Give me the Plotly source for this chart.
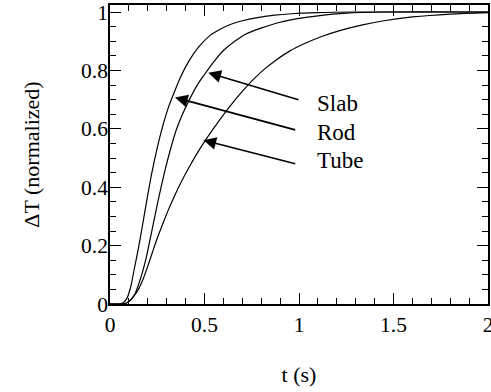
import plotly.graph_objects as go

# Rod (fastest, leftmost curve)
rod_t = [0, 0.05, 0.07, 0.09, 0.11, 0.13, 0.15, 0.17, 0.194, 0.22, 0.25, 0.28, 0.31, 0.34, 0.37, 0.40, 0.44, 0.48, 0.53, 0.58, 0.64, 0.70, 0.78, 0.87, 0.96, 1.1, 1.3, 2.0]
rod_y = [0, 0, 0.004, 0.02, 0.06, 0.125, 0.19, 0.262, 0.352, 0.445, 0.535, 0.612, 0.675, 0.725, 0.772, 0.812, 0.855, 0.888, 0.92, 0.94, 0.958, 0.97, 0.981, 0.989, 0.994, 0.998, 1.0, 1.0]

# Slab (middle curve)
slab_t = [0, 0.06, 0.09, 0.11, 0.13, 0.15, 0.17, 0.194, 0.21, 0.229, 0.25, 0.265, 0.29, 0.32, 0.35, 0.38, 0.42, 0.46, 0.50, 0.55, 0.60, 0.66, 0.72, 0.80, 0.9, 1.0, 1.1, 1.25, 1.45, 2.0]
slab_y = [0, 0, 0.004, 0.014, 0.032, 0.065, 0.105, 0.165, 0.215, 0.274, 0.34, 0.385, 0.455, 0.53, 0.595, 0.645, 0.70, 0.748, 0.786, 0.83, 0.868, 0.9, 0.925, 0.945, 0.965, 0.978, 0.987, 0.996, 1.0, 1.0]

# Tube (slowest, rightmost curve)
tube_t = [0, 0.07, 0.09, 0.11, 0.13, 0.15, 0.175, 0.2, 0.225, 0.25, 0.28, 0.31, 0.34, 0.38, 0.42, 0.46, 0.50, 0.55, 0.60, 0.65, 0.70, 0.76, 0.82, 0.88, 0.95, 1.03, 1.12, 1.22, 1.33, 1.45, 1.6, 1.8, 2.0]
tube_y = [0, 0, 0.004, 0.015, 0.03, 0.05, 0.085, 0.13, 0.178, 0.225, 0.276, 0.324, 0.368, 0.422, 0.47, 0.515, 0.556, 0.603, 0.648, 0.69, 0.728, 0.77, 0.806, 0.836, 0.866, 0.892, 0.916, 0.937, 0.955, 0.97, 0.983, 0.993, 0.998]

# Label annotations
labels = ["Slab", "Rod", "Tube"]
label_x = [1.085, 1.085, 1.085]
label_y = [0.688, 0.589, 0.492]
tail_x = [1.005, 0.988, 0.988]
tail_y = [0.698, 0.595, 0.479]
tip_x = [0.520, 0.344, 0.494]
tip_y = [0.792, 0.707, 0.561]

x_ticks = [0, 0.5, 1, 1.5, 2]
x_ticktext = ["0", "0.5", "1", "1.5", "2"]
y_ticks = [0, 0.2, 0.4, 0.6, 0.8, 1]
y_ticktext = ["0", "0.2", "0.4", "0.6", "0.8", "1"]

FONT = "Times New Roman, Liberation Serif, DejaVu Serif, serif"

fig = go.Figure()
for name, t, y in [("Rod", rod_t, rod_y), ("Slab", slab_t, slab_y), ("Tube", tube_t, tube_y)]:
    fig.add_trace(go.Scatter(x=t, y=y, mode="lines", name=name,
                             line=dict(color="black", width=1.2, shape="spline", smoothing=0.8),
                             showlegend=False, hoverinfo="skip"))

for i, txt in enumerate(labels):
    fig.add_annotation(x=tip_x[i], y=tip_y[i], ax=tail_x[i], ay=tail_y[i],
                       xref="x", yref="y", axref="x", ayref="y",
                       text="", showarrow=True, arrowhead=2, arrowsize=1.5,
                       arrowwidth=1.7, arrowcolor="black", standoff=0)
    fig.add_annotation(x=label_x[i], y=label_y[i], xref="x", yref="y",
                       text=txt, showarrow=False, xanchor="left", yanchor="middle",
                       font=dict(family=FONT, size=23, color="black"))

axis_common = dict(
    showgrid=False, zeroline=False, showline=True, linecolor="black", linewidth=1.5,
    mirror="allticks", ticks="inside", ticklen=11, tickwidth=1.2, tickcolor="black",
    tickfont=dict(family=FONT, size=21.5, color="black"), automargin=False,
    ticklabeloverflow="allow",
)

fig.update_xaxes(range=[0, 2], tickvals=x_ticks, ticktext=x_ticktext,
                 minor=dict(ticks="inside", ticklen=6, dtick=0.1, tickwidth=1.2, tickcolor="black"),
                 title=dict(text="t (s)", font=dict(family=FONT, size=22, color="black"), standoff=31),
                 **axis_common)
fig.update_yaxes(range=[0, 1.024], tickvals=y_ticks, ticktext=y_ticktext,
                 minor=dict(ticks="inside", ticklen=6, dtick=0.05, tickwidth=1.2, tickcolor="black"),
                 title=dict(text="ΔT (normalized)", font=dict(family=FONT, size=22, color="black"), standoff=35),
                 ticklabelstandoff=-4,
                 **axis_common)

fig.update_layout(width=491, height=392, margin=dict(l=110, r=3, t=5, b=88),
                  plot_bgcolor="white", paper_bgcolor="white",
                  font=dict(family=FONT, color="black"))

fig.write_html("out.html", config={"displayModeBar": False},
               post_script="document.body.style.margin='0';")
